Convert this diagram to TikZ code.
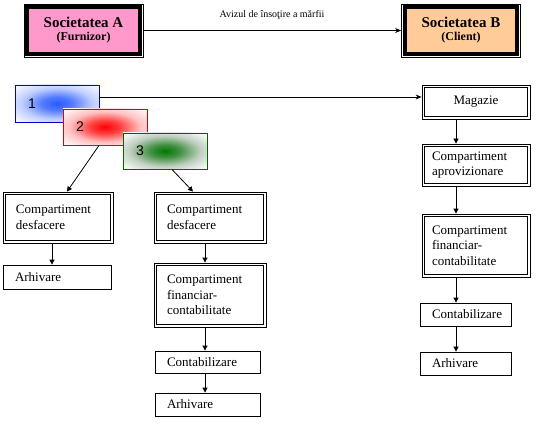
\documentclass[tikz,border=0pt]{standalone}
\usepackage{fontspec}
\setmainfont{Liberation Serif}
\newfontfamily\numfont{Liberation Sans}
\usetikzlibrary{arrows.meta,backgrounds}
\definecolor{pinkA}{HTML}{FF99CC}
\definecolor{peachB}{HTML}{FFCC99}
\definecolor{bBorder}{RGB}{0,0,210}
\definecolor{bCore}{RGB}{40,90,255}
\definecolor{rBorder}{RGB}{225,0,0}
\definecolor{rCore}{RGB}{255,0,0}
\definecolor{gBorder}{RGB}{0,100,0}
\definecolor{gCore}{RGB}{0,120,0}
\definecolor{gHalo}{RGB}{150,175,150}
\pgfdeclareradialshading{blobB}{\pgfpoint{0bp}{0bp}}{color(0bp)=(bCore); color(9bp)=(bCore!80!white); color(21bp)=(bCore!30!white); color(32bp)=(bCore!6!white); color(50bp)=(bCore!4!white)}
\pgfdeclareradialshading{blobR}{\pgfpoint{0bp}{0bp}}{color(0bp)=(rCore); color(9bp)=(rCore!75!white); color(21bp)=(rCore!25!white); color(32bp)=(rCore!5!white); color(50bp)=(rCore!4!white)}
\pgfdeclareradialshading{blobG}{\pgfpoint{0bp}{0bp}}{color(0bp)=(gCore); color(9bp)=(gCore!55!gHalo); color(21bp)=(gHalo!60!white); color(32bp)=(gHalo!10!white); color(50bp)=(gHalo!6!white)}
\begin{document}
\begin{tikzpicture}[x=1pt,y=-1pt,
  socbox/.style={draw, line width=0.8pt, inner sep=0pt, align=center,
    minimum width=119pt, minimum height=53pt},
  dbox/.style={draw, line width=0.8pt, inner xsep=12pt, inner ysep=0pt, align=left,
    font=\fontsize{13}{15.5}\selectfont},
  sbox/.style={draw, line width=0.8pt, inner xsep=12pt, inner ysep=0pt, align=left,
    font=\fontsize{13}{15.5}\selectfont},
  gbox/.style={draw, line width=0.9pt, fill=white, inner xsep=13pt, inner ysep=0pt,
    align=left, text width=58pt, minimum height=#1, font=\numfont\fontsize{14}{16}\selectfont},
  inframe/.style={line width=1.4pt},
  arr/.style={line width=0.8pt, -{Triangle[length=5pt,width=5pt]}},
  sarr/.style={line width=0.8pt, -{Stealth[length=6pt,width=5pt]}},
  lbl/.style={font=\fontsize{10}{12}\selectfont}
]
\useasboundingbox (0,0) rectangle (549,425);

% Top companies
\node[socbox] (A) at (83.5,30.5) {{\fontsize{15}{18}\selectfont\bfseries Societatea A}\\[1pt]{\fontsize{12}{14}\selectfont\bfseries (Furnizor)}};
\node[socbox] (B) at (461,30.5) {{\fontsize{15}{18}\selectfont\bfseries Societatea B}\\[1pt]{\fontsize{12}{14}\selectfont\bfseries (Client)}};
\begin{scope}[on background layer]
  \filldraw[fill=pinkA, line width=4pt] ([shift={(3.5pt,-3.5pt)}]A.north west) rectangle ([shift={(-3.5pt,3.5pt)}]A.south east);
  \filldraw[fill=peachB, line width=4pt] ([shift={(3.5pt,-3.5pt)}]B.north west) rectangle ([shift={(-3.5pt,3.5pt)}]B.south east);
\end{scope}
\node[lbl] (aviz) at (272,15) {Avizul de însoţire a mărfii};
\draw[sarr] (A.east) -- (B.west);

% Documents 1,2,3
\node[gbox=37pt, draw=bBorder, path picture={\shade[shading=blobB] (path picture bounding box.south west) rectangle (path picture bounding box.north east);}] (d1) at (57,103.5) {1};
\node[gbox=36pt, draw=rBorder, path picture={\shade[shading=blobR] (path picture bounding box.south west) rectangle (path picture bounding box.north east);}] (d2) at (105,127) {2};
\node[gbox=36pt, draw=gBorder, path picture={\shade[shading=blobG] (path picture bounding box.south west) rectangle (path picture bounding box.north east);}] (d3) at (165,151) {3};

% Right column
\node[dbox, align=center, minimum width=108pt, minimum height=34pt] (mag) at (476,102) {Magazie};
\node[dbox, inner xsep=10pt, text width=88pt, minimum height=42pt] (ap) at (476,165) {Compartiment\\aprovizionare};
\node[dbox, inner xsep=10pt, text width=88pt, minimum height=63pt] (finR) at (476,245.5) {Compartiment\\financiar-\\contabilitate};
\node[sbox, text width=67pt, minimum height=23pt] (contR) at (465.5,314.5) {Contabilizare};
\node[sbox, text width=67pt, minimum height=23pt] (arhR) at (465.5,363.5) {Arhivare};

% Left column
\node[dbox, inner xsep=13pt, text width=84pt, minimum height=51pt] (desfL) at (58,217.5) {Compartiment\\desfacere};
\node[sbox, text width=84pt, minimum height=24pt] (arhL) at (57,277) {Arhivare};

% Middle column
\node[dbox, inner xsep=13pt, text width=86pt, minimum height=51pt] (desfM) at (210,217.5) {Compartiment\\desfacere};
\node[dbox, inner xsep=13pt, text width=86pt, minimum height=64pt] (finM) at (210,295) {Compartiment\\financiar-\\contabilitate};
\node[sbox, text width=81pt, minimum height=22pt] (contM) at (207.5,362) {Contabilizare};
\node[sbox, text width=81pt, minimum height=23pt] (arhM) at (207.5,404.5) {Arhivare};

% inner frames of double boxes
\foreach \n in {mag,ap,finR,desfL,desfM,finM}
  \draw[inframe] ([shift={(3pt,-3pt)}]\n.north west) rectangle ([shift={(-3pt,3pt)}]\n.south east);

% connectors
\coordinate (xr) at (456,0);
\coordinate (xl) at (52,0);
\coordinate (xm) at (205,0);
\draw[sarr] ([yshift=6.5pt]d1.east) -- ([yshift=6.5pt]d1.east -| mag.west);
\draw[arr] ([xshift=-6pt]d2.south) -- ([xshift=9pt]desfL.north);
\draw[arr] ([xshift=7pt]d3.south) -- ([xshift=-17pt]desfM.north);
\draw[arr] (desfL.south -| xl) -- (arhL.north -| xl);
\draw[arr] (desfM.south -| xm) -- (finM.north -| xm);
\draw[arr] (finM.south -| xm) -- (contM.north -| xm);
\draw[arr] (contM.south -| xm) -- (arhM.north -| xm);
\draw[arr] (mag.south -| xr) -- (ap.north -| xr);
\draw[arr] (ap.south -| xr) -- (finR.north -| xr);
\draw[arr] (finR.south -| xr) -- (contR.north -| xr);
\draw[arr] (contR.south -| xr) -- (arhR.north -| xr);
\end{tikzpicture}
\end{document}
